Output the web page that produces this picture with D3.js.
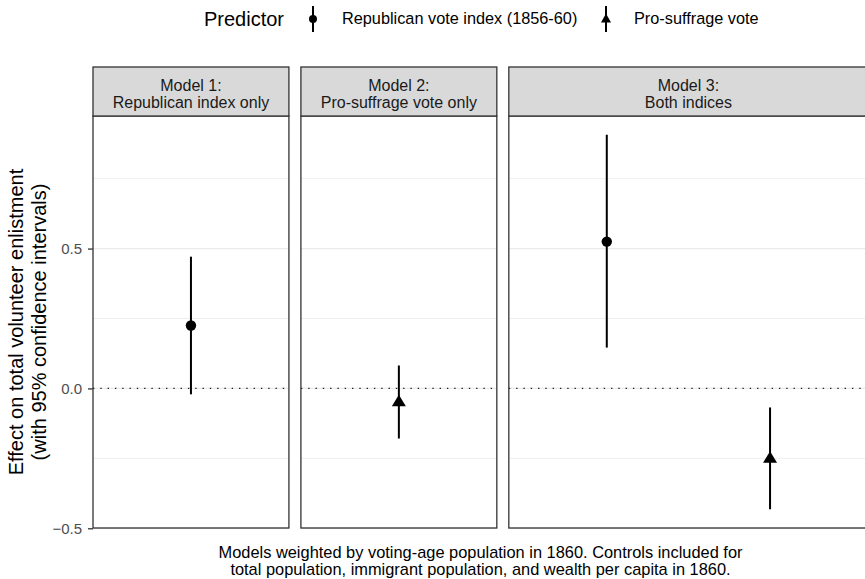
<!DOCTYPE html>
<html>
<head>
<meta charset="utf-8">
<script src="https://cdn.jsdelivr.net/npm/d3@7"></script>
<style>
  body { margin: 0; background: #fff; }
  svg { font-family: "Liberation Sans", Arial, sans-serif; display: block; }
</style>
</head>
<body>
<svg id="viz" width="865" height="579"></svg>
<script>
// facet labels (two lines each)
var models = [
  ["Model 1:", "Republican index only"],
  ["Model 2:", "Pro-suffrage vote only"],
  ["Model 3:", "Both indices"]
];
var predictors = ["Republican vote index (1856-60)", "Pro-suffrage vote"];
// which predictors appear in each model
var modelPredictors = [[0], [1], [0, 1]];

// one row per estimate
var rowModel     = [0, 1, 2, 2];
var rowPredictor = [0, 1, 0, 1];
var estimates    = [0.225, -0.046, 0.525, -0.248];
var lower        = [-0.021, -0.179, 0.146, -0.432];
var upper        = [0.471, 0.082, 0.907, -0.068];

var yTicks = [-0.5, 0.0, 0.5];
var yMinor = [-0.25, 0.25, 0.75];

var caption = [
  "Models weighted by voting-age population in 1860. Controls included for",
  "total population, immigrant population, and wealth per capita in 1860."
];
var yTitle = ["Effect on total volunteer enlistment", "(with 95% confidence intervals)"];

var margins = {top: 116, right: -3, bottom: 51, left: 93};
var stripH = 49;
var spacing = 12;

var svg = d3.select("#viz"),
    width = +svg.attr("width") - margins.left - margins.right,
    height = +svg.attr("height") - margins.top - margins.bottom;

var rows = estimates.map(function(e, i){
  return {model: rowModel[i], pred: rowPredictor[i], est: e, lo: lower[i], hi: upper[i]};
});

// y domain from data with 5% expansion like ggplot
var yLo = d3.min(lower), yHi = d3.max(upper), pad = (yHi - yLo) * 0.05;
var yScale = d3.scaleLinear()
               .domain([yLo - pad, yHi + pad])
               .range([height, 0]);

// panel widths proportional to number of categories (free space)
var units = modelPredictors.map(function(p){ return p.length + 0.2; });
var unitW = (width - spacing * (models.length - 1)) / d3.sum(units);
var panelX = [], acc = 0;
units.forEach(function(u){ panelX.push(acc); acc += u * unitW + spacing; });

var g = svg.append("g").attr("transform", "translate(" + margins.left + "," + margins.top + ")");

models.forEach(function(m, mi){
  var pw = units[mi] * unitW;
  var xScale = d3.scalePoint()
                 .domain(modelPredictors[mi].map(function(p){ return predictors[p]; }))
                 .range([0, pw])
                 .padding(0.6);
  var p = g.append("g").attr("transform", "translate(" + panelX[mi] + ",0)");

  // grid
  p.selectAll(".minor").data(yMinor).enter().append("line")
    .attr("x1", 0).attr("x2", pw)
    .attr("y1", yScale).attr("y2", yScale)
    .style("stroke", "#ebebeb").style("stroke-width", "0.8px");
  p.selectAll(".major").data(yTicks).enter().append("line")
    .attr("x1", 0).attr("x2", pw)
    .attr("y1", yScale).attr("y2", yScale)
    .style("stroke", "#ebebeb").style("stroke-width", "1.3px");

  // zero line
  p.append("line")
    .attr("x1", 0).attr("x2", pw)
    .attr("y1", yScale(0)).attr("y2", yScale(0))
    .style("stroke", "#222").style("stroke-width", "1.3px")
    .style("stroke-dasharray", "1.4,5.9");

  var data = rows.filter(function(r){ return r.model === mi; });
  p.selectAll(".ci").data(data).enter().append("line")
    .attr("x1", function(d){ return xScale(predictors[d.pred]); })
    .attr("x2", function(d){ return xScale(predictors[d.pred]); })
    .attr("y1", function(d){ return yScale(d.lo); })
    .attr("y2", function(d){ return yScale(d.hi); })
    .style("stroke", "#000").style("stroke-width", "2px");

  p.selectAll(".pt").data(data).enter().append("path")
    .attr("transform", function(d){
      return "translate(" + xScale(predictors[d.pred]) + "," + yScale(d.est) + ")";
    })
    .attr("d", function(d){
      return d.pred === 0
        ? d3.symbol().type(d3.symbolCircle).size(85)()
        : "M0,-6.5L7,5L-7,5Z";
    })
    .style("fill", "#000");

  // panel border
  p.append("rect")
    .attr("x", 0).attr("y", 0).attr("width", pw).attr("height", height)
    .style("fill", "none").style("stroke", "#333").style("stroke-width", "1.3px");

  // strip
  p.append("rect")
    .attr("x", 0).attr("y", -stripH).attr("width", pw).attr("height", stripH)
    .style("fill", "#d9d9d9").style("stroke", "#333").style("stroke-width", "1.3px");
  p.append("text")
    .attr("x", pw / 2).attr("y", -stripH + 24)
    .attr("text-anchor", "middle")
    .style("font-size", "16px").style("fill", "#1a1a1a")
    .selectAll("tspan").data(m).enter().append("tspan")
    .attr("x", pw / 2).attr("dy", function(d, i){ return i ? 17 : 0; })
    .text(function(d){ return d; });
});

// y axis
var yAxis = g.append("g")
  .call(d3.axisLeft(yScale).tickValues(yTicks).tickSize(5).tickFormat(d3.format(".1f")));
yAxis.select(".domain").remove();
yAxis.selectAll(".tick line").style("stroke", "#333").style("stroke-width", "1.3px");
yAxis.selectAll(".tick text")
  .style("font-size", "15px").style("fill", "#4d4d4d").attr("x", -11)
  .text(function(d){ return d < 0 ? "\u2212" + d3.format(".1f")(-d) : d3.format(".1f")(d); });

// y title
svg.append("text")
  .attr("transform", "translate(23," + (margins.top + height / 2) + ") rotate(-90)")
  .attr("text-anchor", "middle")
  .style("font-size", "20px").style("fill", "#000")
  .selectAll("tspan").data(yTitle).enter().append("tspan")
  .attr("x", 0).attr("dy", function(d, i){ return i ? 23 : 0; })
  .text(function(d){ return d; });

// caption
svg.append("text")
  .attr("text-anchor", "middle")
  .attr("transform", "translate(" + (margins.left + width / 2) + ",558)")
  .style("font-size", "16.4px").style("fill", "#000")
  .selectAll("tspan").data(caption).enter().append("tspan")
  .attr("x", 0).attr("dy", function(d, i){ return i ? 17 : 0; })
  .text(function(d){ return d; });

// legend
var legend = svg.append("g").attr("transform", "translate(0,19)");
legend.append("text").attr("x", 204).attr("y", 7)
  .style("font-size", "20px").text("Predictor");
var keyX = [313, 606], labX = [342, 634];
predictors.forEach(function(p, i){
  legend.append("line")
    .attr("x1", keyX[i]).attr("x2", keyX[i]).attr("y1", -13).attr("y2", 13)
    .style("stroke", "#000").style("stroke-width", "2px");
  legend.append("path")
    .attr("transform", "translate(" + keyX[i] + ",0)")
    .attr("d", i === 0 ? d3.symbol().type(d3.symbolCircle).size(50)() : "M0,-5.5L5,3.5L-5,3.5Z")
    .style("fill", "#000");
  legend.append("text").attr("x", labX[i]).attr("y", 5)
    .style("font-size", "16.3px").text(p);
});
</script>
</body>
</html>
